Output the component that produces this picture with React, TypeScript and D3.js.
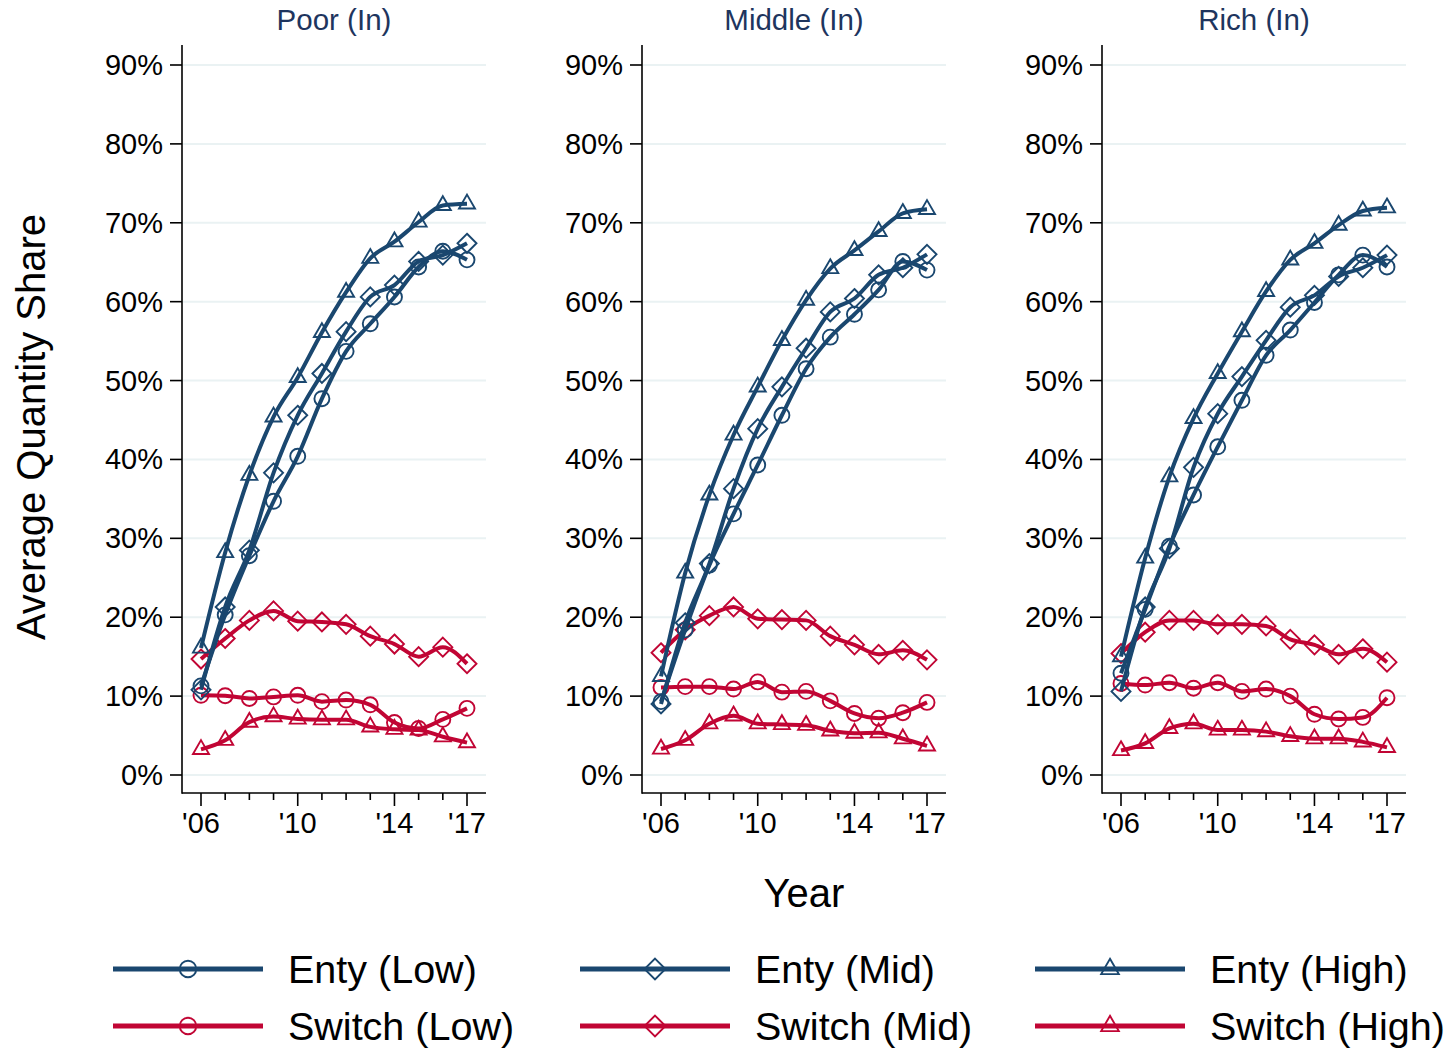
import React from "react";
import * as d3 from "d3";

// Years on the horizontal axis
const years = [2006, 2007, 2008, 2009, 2010, 2011, 2012, 2013, 2014, 2015, 2016, 2017];
const yTicks = [0, 10, 20, 30, 40, 50, 60, 70, 80, 90];
const xMajorTicks = [2006, 2010, 2014, 2017];
const xTickLabels = ["'06", "'10", "'14", "'17"];

const panelTitles = ["Poor (In)", "Middle (In)", "Rich (In)"];

// Average quantity share (%) per panel
const poorEntryLow = [11.3, 20.3, 27.8, 34.7, 40.4, 47.7, 53.7, 57.2, 60.6, 64.4, 66.4, 65.3];
const poorEntryMid = [10.8, 21.3, 28.5, 38.3, 45.6, 50.9, 56.2, 60.6, 62.1, 65.1, 65.9, 67.4];
const poorEntryHigh = [16.1, 28.2, 38.0, 45.4, 50.4, 56.1, 61.2, 65.5, 67.6, 70.1, 72.2, 72.4];
const poorSwitchLow = [10.1, 10.05, 9.7, 9.9, 10.1, 9.3, 9.5, 8.9, 6.65, 5.9, 7.05, 8.45];
const poorSwitchMid = [14.7, 17.3, 19.6, 20.8, 19.5, 19.4, 19.1, 17.6, 16.6, 15.0, 16.2, 14.1];
const poorSwitchHigh = [3.25, 4.4, 6.7, 7.4, 7.1, 7.0, 7.0, 6.1, 5.8, 5.7, 4.85, 4.1];

const middleEntryLow = [9.3, 18.4, 26.6, 33.1, 39.3, 45.6, 51.5, 55.5, 58.4, 61.5, 65.1, 64.0];
const middleEntryMid = [9.0, 19.3, 26.8, 36.3, 43.9, 49.2, 54.1, 58.7, 60.4, 63.4, 64.3, 66.0];
const middleEntryHigh = [12.5, 25.6, 35.5, 43.1, 49.2, 55.1, 60.2, 64.2, 66.5, 68.9, 71.2, 71.7];
const middleSwitchLow = [11.1, 11.2, 11.2, 10.9, 11.8, 10.5, 10.6, 9.4, 7.8, 7.2, 7.9, 9.2];
const middleSwitchMid = [15.5, 18.4, 20.2, 21.3, 19.8, 19.7, 19.6, 17.6, 16.5, 15.3, 15.8, 14.6];
const middleSwitchHigh = [3.3, 4.4, 6.5, 7.5, 6.5, 6.4, 6.3, 5.6, 5.3, 5.35, 4.6, 3.7];

const richEntryLow = [12.9, 21.0, 29.0, 35.5, 41.6, 47.5, 53.2, 56.4, 59.9, 63.4, 65.9, 64.4];
const richEntryMid = [10.6, 21.3, 28.7, 39.0, 45.8, 50.5, 55.1, 59.3, 60.8, 63.2, 64.3, 65.9];
const richEntryHigh = [15.0, 27.5, 37.8, 45.2, 50.9, 56.2, 61.3, 65.3, 67.4, 69.7, 71.5, 71.9];
const richSwitchLow = [11.6, 11.4, 11.7, 11.0, 11.7, 10.6, 10.9, 10.0, 7.7, 7.1, 7.3, 9.8];
const richSwitchMid = [15.4, 18.1, 19.6, 19.6, 19.1, 19.1, 18.9, 17.2, 16.5, 15.3, 16.0, 14.3];
const richSwitchHigh = [3.1, 4.0, 5.9, 6.5, 5.7, 5.7, 5.5, 4.9, 4.6, 4.6, 4.2, 3.5];

const seriesLabels = ["Enty (Low)", "Enty (Mid)", "Enty (High)", "Switch (Low)", "Switch (Mid)", "Switch (High)"];

type Shape = "circle" | "diamond" | "triangle";

const NAVY = "#1a476f";
const RED = "#c10534";
const GRID = "#eaf2f3";
const FONT = "Arial, 'Liberation Sans', Helvetica, sans-serif";

const seriesStyle: { color: string; shape: Shape }[] = [
  { color: NAVY, shape: "circle" },
  { color: NAVY, shape: "diamond" },
  { color: NAVY, shape: "triangle" },
  { color: RED, shape: "circle" },
  { color: RED, shape: "diamond" },
  { color: RED, shape: "triangle" },
];

const panels = [
  [poorEntryLow, poorEntryMid, poorEntryHigh, poorSwitchLow, poorSwitchMid, poorSwitchHigh],
  [middleEntryLow, middleEntryMid, middleEntryHigh, middleSwitchLow, middleSwitchMid, middleSwitchHigh],
  [richEntryLow, richEntryMid, richEntryHigh, richSwitchLow, richSwitchMid, richSwitchHigh],
];

function Marker({ shape, x, y, color, size = 1 }: { shape: Shape; x: number; y: number; color: string; size?: number }) {
  const sw = 1.9;
  if (shape === "circle") {
    return <circle cx={x} cy={y} r={7.5 * size} fill="none" stroke={color} strokeWidth={sw} />;
  }
  if (shape === "diamond") {
    const h = 9.5 * size;
    return (
      <path
        d={`M${x},${y - h}L${x + h},${y}L${x},${y + h}L${x - h},${y}Z`}
        fill="none"
        stroke={color}
        strokeWidth={sw}
      />
    );
  }
  const s = 16 * size;
  const ht = (s * Math.sqrt(3)) / 2;
  return (
    <path
      d={`M${x},${y - (2 * ht) / 3}L${x + s / 2},${y + ht / 3}L${x - s / 2},${y + ht / 3}Z`}
      fill="none"
      stroke={color}
      strokeWidth={sw}
    />
  );
}

const yScale = d3.scaleLinear().domain([0, 90]).range([775, 65]);

function Panel({ index, data }: { index: number; data: number[][] }) {
  const offset = index * 460;
  const axisLeft = 182 + offset;
  const axisRight = 486 + offset;
  const xScale = d3.scaleLinear().domain([2006, 2017]).range([201 + offset, 467 + offset]);
  const line = d3
    .line<number>()
    .x((_, i) => xScale(years[i]))
    .y((v) => yScale(v))
    .curve(d3.curveMonotoneX);
  const drawOrder = [3, 4, 5, 0, 1, 2];
  return (
    <g>
      <text
        x={(axisLeft + axisRight) / 2}
        y={30}
        textAnchor="middle"
        fontSize={29.5}
        fill="#1e355e"
        fontFamily={FONT}
      >
        {panelTitles[index]}
      </text>
      {yTicks.map((t) => (
        <g key={t}>
          <line x1={axisLeft + 1} x2={axisRight} y1={yScale(t)} y2={yScale(t)} stroke={GRID} strokeWidth={2} />
          <line x1={axisLeft - 12} x2={axisLeft} y1={yScale(t)} y2={yScale(t)} stroke="#000" strokeWidth={1.6} />
          <text x={axisLeft - 19} y={yScale(t) + 10} textAnchor="end" fontSize={29} fontFamily={FONT} fill="#000">
            {t}%
          </text>
        </g>
      ))}
      <line x1={axisLeft} x2={axisLeft} y1={45} y2={793.8} stroke="#000" strokeWidth={1.6} />
      <line x1={axisLeft} x2={axisRight} y1={793} y2={793} stroke="#000" strokeWidth={1.6} />
      {years.map((yr) => {
        const major = xMajorTicks.includes(yr);
        return (
          <line
            key={yr}
            x1={xScale(yr)}
            x2={xScale(yr)}
            y1={793}
            y2={major ? 806 : 800}
            stroke="#000"
            strokeWidth={1.6}
          />
        );
      })}
      {xMajorTicks.map((yr, i) => (
        <text key={yr} x={xScale(yr)} y={833} textAnchor="middle" fontSize={29} fontFamily={FONT} fill="#000">
          {xTickLabels[i]}
        </text>
      ))}
      {drawOrder.map((si) => {
        const values = data[si];
        const st = seriesStyle[si];
        return (
          <g key={si}>
            <path d={line(values) || ""} fill="none" stroke={st.color} strokeWidth={4} strokeLinejoin="round" />
            {values.map((v, i) => (
              <Marker key={i} shape={st.shape} x={xScale(years[i])} y={yScale(v)} color={st.color} />
            ))}
          </g>
        );
      })}
    </g>
  );
}

function Legend() {
  const cols = [113, 580, 1035];
  const rows = [969, 1026];
  return (
    <g>
      {seriesLabels.map((label, i) => {
        const col = i % 3;
        const row = Math.floor(i / 3);
        const x0 = cols[col];
        const y0 = rows[row];
        const st = seriesStyle[i];
        return (
          <g key={label}>
            <line x1={x0} x2={x0 + 150} y1={y0} y2={y0} stroke={st.color} strokeWidth={5} />
            <Marker shape={st.shape} x={x0 + 75} y={y0} color={st.color} size={1.1} />
            <text x={x0 + 175} y={y0 + 14} fontSize={39.5} fontFamily={FONT} fill="#000">
              {label}
            </text>
          </g>
        );
      })}
    </g>
  );
}

export default function App() {
  return (
    <svg
      width={1452}
      height={1051}
      style={{ position: "absolute", left: 0, top: 0, background: "#fff" }}
    >
      <rect width={1452} height={1051} fill="#fff" />
      {panels.map((data, i) => (
        <Panel key={i} index={i} data={data} />
      ))}
      <text
        transform="translate(45,427) rotate(-90)"
        textAnchor="middle"
        fontSize={40}
        fontFamily={FONT}
        fill="#000"
      >
        Average Quantity Share
      </text>
      <text x={804} y={907} textAnchor="middle" fontSize={40} fontFamily={FONT} fill="#000">
        Year
      </text>
      <Legend />
    </svg>
  );
}
